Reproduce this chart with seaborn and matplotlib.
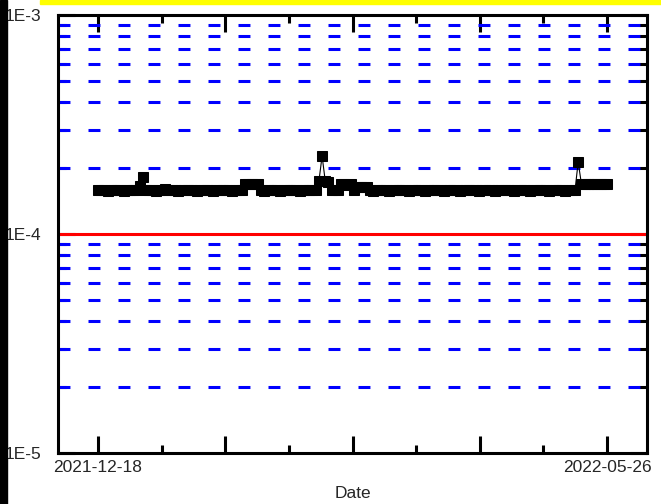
import numpy as np
import pandas as pd
import matplotlib
matplotlib.use('Agg')
import matplotlib.pyplot as plt
import matplotlib.dates as mdates
import matplotlib.ticker as mticker
from matplotlib.patches import Rectangle
import seaborn as sns

# daily values (x 1e-4)
start_date = '2021-12-18'
end_date = '2022-05-26'
vals_e4 = [
    1.58, 1.58, 1.58, 1.57, 1.58, 1.58, 1.58, 1.58, 1.57, 1.58,
    1.58, 1.58, 1.58, 1.65, 1.83, 1.58, 1.58, 1.58, 1.57, 1.58,
    1.59, 1.60, 1.59, 1.58, 1.58, 1.57, 1.58, 1.58, 1.58, 1.58,
    1.58, 1.57, 1.58, 1.58, 1.58, 1.58, 1.57, 1.58, 1.58, 1.58,
    1.58, 1.58, 1.57, 1.58, 1.58, 1.58, 1.70, 1.70, 1.70, 1.70,
    1.70, 1.58, 1.57, 1.58, 1.58, 1.58, 1.58, 1.57, 1.58, 1.58,
    1.58, 1.58, 1.58, 1.57, 1.58, 1.58, 1.58, 1.58, 1.58, 1.74,
    2.27, 1.74, 1.72, 1.58, 1.58, 1.58, 1.69, 1.69, 1.68, 1.69,
    1.58, 1.64, 1.64, 1.64, 1.64, 1.58, 1.57, 1.58, 1.58, 1.58,
    1.58, 1.57, 1.58, 1.58, 1.58, 1.58, 1.58, 1.57, 1.58, 1.58,
    1.58, 1.58, 1.57, 1.58, 1.58, 1.58, 1.58, 1.58, 1.57, 1.58,
    1.58, 1.58, 1.58, 1.57, 1.58, 1.58, 1.58, 1.58, 1.58, 1.57,
    1.58, 1.58, 1.58, 1.58, 1.57, 1.58, 1.58, 1.58, 1.58, 1.58,
    1.57, 1.58, 1.58, 1.58, 1.58, 1.57, 1.58, 1.58, 1.58, 1.58,
    1.58, 1.57, 1.58, 1.58, 1.58, 1.58, 1.57, 1.58, 1.58, 1.58,
    2.13, 1.70, 1.70, 1.70, 1.69, 1.70, 1.70, 1.70, 1.70, 1.69,
]
grid_vals = [2e-5, 3e-5, 4e-5, 5e-5, 6e-5, 7e-5, 8e-5, 9e-5,
             2e-4, 3e-4, 4e-4, 5e-4, 6e-4, 7e-4, 8e-4, 9e-4]
ref_val = 1e-4
y_ticks = [1e-5, 1e-4, 1e-3]
y_labels = ['1E-5', '1E-4', '1E-3']
x_labels = ['2021-12-18', '2022-05-26']

dates = pd.date_range(start_date, periods=len(vals_e4), freq='D')
df = pd.DataFrame({'Date': dates, 'Value': np.array(vals_e4) * 1e-4})

sns.set_style('white')
plt.rcParams['font.family'] = ['Liberation Sans', 'DejaVu Sans']
plt.rcParams['lines.scale_dashes'] = False

fig = plt.figure(figsize=(6.61, 5.04), dpi=100)
ax = fig.add_axes([58 / 661, 51 / 504, 589 / 661, 438 / 504])

for g in grid_vals:
    ax.axhline(g, color='#0000ff', lw=2.2, linestyle=(0, (8.6, 13.0)), zorder=1)
ax.axhline(ref_val, color='#ff0000', lw=2.2, zorder=2)

sns.lineplot(x='Date', y='Value', data=df, ax=ax, color='black', lw=0.8,
             marker='s', markersize=7, markeredgecolor='black', zorder=3)

ax.set_yscale('log')
ax.set_ylim(1e-5, 1e-3)
d0 = pd.Timestamp(start_date)
d1 = pd.Timestamp(end_date)
pad = pd.Timedelta(days=12.5)
ax.set_xlim(d0 - pad, d1 + pad)

# major / minor ticks: 4 intervals between first and last date
span = (d1 - d0) / 4
majors = [mdates.date2num(d0 + span * i) for i in range(5)]
minors = [mdates.date2num(d0 + span * (i + 0.5)) for i in range(4)]
ax.xaxis.set_major_locator(mticker.FixedLocator(majors))
ax.xaxis.set_minor_locator(mticker.FixedLocator(minors))
ax.xaxis.set_major_formatter(mticker.FixedFormatter([x_labels[0], '', '', '', x_labels[1]]))

ax.yaxis.set_major_locator(mticker.FixedLocator(y_ticks))
ax.yaxis.set_major_formatter(mticker.FixedFormatter(y_labels))
ax.yaxis.set_minor_locator(mticker.FixedLocator(grid_vals))
ax.yaxis.set_minor_formatter(mticker.NullFormatter())

ax.tick_params(which='major', direction='in', length=12, width=2.2,
               bottom=True, left=True, top=True, right=True,
               labelsize=12.5, pad=5, color='black')
ax.tick_params(which='minor', direction='in', length=6, width=2.2,
               bottom=True, left=True, top=True, right=True, color='black')
ax.tick_params(axis='y', which='major', pad=12.2, labelsize=12.5)

for s in ax.spines.values():
    s.set_linewidth(2.2)
    s.set_color('black')

ax.set_xlabel('Date', fontsize=12.5, labelpad=8)
ax.set_ylabel('')

# screenshot edges
fig.patches.append(Rectangle((0, 0), 7 / 661, 1, transform=fig.transFigure,
                             color='black', zorder=10))
fig.patches.append(Rectangle((40 / 661, 1 - 4 / 504), 1, 4 / 504,
                             transform=fig.transFigure, color='#ffff00', zorder=10))

fig.savefig('out.png', dpi=100)
